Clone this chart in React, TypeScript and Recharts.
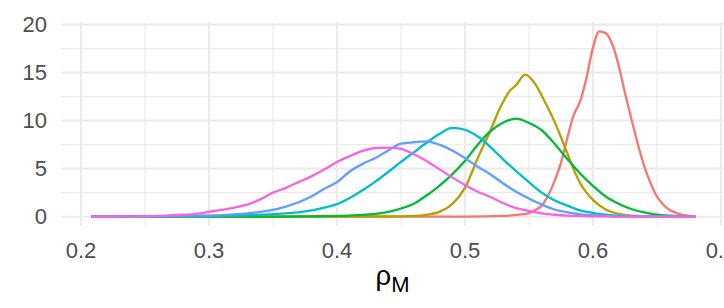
import { CartesianGrid, Label, Line, LineChart, ReferenceLine, XAxis, YAxis } from "recharts";

// density curves, one x/y list per group (drawn in ggplot's order)
const redX = [0.208, 0.5, 0.53, 0.54, 0.55, 0.555, 0.56, 0.565, 0.57, 0.575, 0.58, 0.585, 0.59, 0.595, 0.6, 0.605, 0.61, 0.615, 0.62, 0.625, 0.63, 0.635, 0.64, 0.645, 0.65, 0.655, 0.66, 0.665, 0.67, 0.68];
const redY = [0, 0.01, 0.08, 0.18, 0.38, 0.7, 1.15, 2.2, 3.7, 5.6, 8.2, 10.6, 12.0, 14.5, 17.6, 19.3, 19.1, 18.0, 15.8, 12.9, 10.2, 7.6, 5.3, 3.5, 2.1, 1.25, 0.7, 0.4, 0.18, 0.03];

const oliveX = [0.208, 0.44, 0.46, 0.47, 0.48, 0.49, 0.5, 0.51, 0.52, 0.527, 0.535, 0.54, 0.547, 0.555, 0.56, 0.565, 0.57, 0.575, 0.58, 0.585, 0.59, 0.595, 0.6, 0.61, 0.62, 0.63, 0.65, 0.68];
const oliveY = [0, 0.02, 0.08, 0.2, 0.5, 1.3, 3.0, 6.1, 9.0, 11.2, 13.1, 13.7, 14.8, 13.8, 12.6, 11.3, 9.9, 8.3, 6.6, 4.9, 3.5, 2.5, 1.75, 0.75, 0.3, 0.12, 0.02, 0];

const greenX = [0.208, 0.34, 0.38, 0.4, 0.41, 0.42, 0.43, 0.44, 0.45, 0.46, 0.47, 0.48, 0.49, 0.5, 0.51, 0.52, 0.53, 0.54, 0.55, 0.56, 0.57, 0.58, 0.59, 0.6, 0.61, 0.62, 0.63, 0.64, 0.65, 0.66, 0.68];
const greenY = [0, 0.01, 0.04, 0.08, 0.12, 0.18, 0.3, 0.5, 0.85, 1.35, 2.2, 3.2, 4.4, 5.8, 7.5, 8.9, 9.8, 10.2, 9.75, 9.0, 7.6, 6.0, 4.5, 3.2, 2.1, 1.35, 0.8, 0.45, 0.22, 0.1, 0];

const cyanX = [0.208, 0.26, 0.3, 0.33, 0.35, 0.36, 0.37, 0.38, 0.39, 0.4, 0.41, 0.42, 0.43, 0.44, 0.45, 0.46, 0.47, 0.48, 0.49, 0.5, 0.51, 0.52, 0.53, 0.54, 0.55, 0.56, 0.57, 0.58, 0.59, 0.6, 0.61, 0.62, 0.64, 0.68];
const cyanY = [0, 0.02, 0.07, 0.16, 0.27, 0.35, 0.45, 0.65, 0.95, 1.3, 1.95, 2.75, 3.65, 4.65, 5.7, 6.7, 7.7, 8.6, 9.25, 9.05, 8.35, 7.25, 5.95, 4.75, 3.6, 2.5, 1.7, 1.15, 0.65, 0.4, 0.2, 0.1, 0.02, 0];

const blueX = [0.208, 0.24, 0.27, 0.29, 0.31, 0.32, 0.33, 0.34, 0.35, 0.36, 0.37, 0.38, 0.39, 0.4, 0.41, 0.42, 0.43, 0.44, 0.45, 0.46, 0.47, 0.48, 0.49, 0.5, 0.51, 0.52, 0.53, 0.54, 0.55, 0.56, 0.57, 0.58, 0.59, 0.6, 0.61, 0.63, 0.68];
const blueY = [0, 0.02, 0.05, 0.1, 0.17, 0.25, 0.35, 0.5, 0.7, 1.05, 1.5, 2.1, 2.9, 3.6, 4.7, 5.5, 6.1, 6.9, 7.6, 7.75, 7.85, 7.5, 6.9, 6.1, 5.2, 4.4, 3.45, 2.6, 1.9, 1.25, 0.75, 0.45, 0.25, 0.15, 0.08, 0.02, 0];

const magentaX = [0.208, 0.22, 0.24, 0.26, 0.28, 0.29, 0.3, 0.31, 0.32, 0.33, 0.34, 0.35, 0.36, 0.37, 0.38, 0.39, 0.4, 0.41, 0.42, 0.43, 0.44, 0.45, 0.46, 0.47, 0.48, 0.49, 0.5, 0.51, 0.52, 0.53, 0.54, 0.55, 0.56, 0.57, 0.58, 0.6, 0.62, 0.68];
const magentaY = [0, 0.01, 0.03, 0.08, 0.2, 0.3, 0.5, 0.7, 0.95, 1.25, 1.8, 2.5, 3.0, 3.6, 4.2, 4.9, 5.7, 6.3, 6.85, 7.15, 7.2, 7.05, 6.5, 5.8, 4.95, 4.1, 3.3, 2.6, 2.05, 1.4, 0.9, 0.6, 0.35, 0.2, 0.1, 0.03, 0.01, 0];

const xMajor = [0.2, 0.3, 0.4, 0.5, 0.6, 0.7];
const xMinor = [0.25, 0.35, 0.45, 0.55, 0.65];
const yMajor = [0, 5, 10, 15, 20];
const yMinor = [2.5, 7.5, 12.5, 17.5];

const series = [
  { name: "red", color: "#F8766D", xs: redX, ys: redY },
  { name: "olive", color: "#B79F00", xs: oliveX, ys: oliveY },
  { name: "green", color: "#00BA38", xs: greenX, ys: greenY },
  { name: "cyan", color: "#00BFC4", xs: cyanX, ys: cyanY },
  { name: "blue", color: "#619CFF", xs: blueX, ys: blueY },
  { name: "magenta", color: "#F564E3", xs: magentaX, ys: magentaY },
].map((s) => ({ ...s, data: s.xs.map((x, i) => ({ x, y: s.ys[i] })) }));

const FONT = "'Liberation Sans', Arial, sans-serif";
const GRID = "#EBEBEB";

function AxisTitle(props: any) {
  const vb = props.viewBox || { x: 61, y: 226, width: 663 };
  const cx = vb.x + vb.width / 2;
  return (
    <text x={cx} y={vb.y + 59} textAnchor="middle" fill="#000000" fontFamily={FONT} fontSize={27.5}>
      <tspan>ρ</tspan>
      <tspan fontSize={22} dy={7}>M</tspan>
    </text>
  );
}

export default function App() {
  return (
    <div style={{ width: 724, height: 308, overflow: "hidden", background: "#FFFFFF" }}>
      <style>{"body{margin:0}"}</style>
      <LineChart
        width={724}
        height={308}
        margin={{ top: 22, right: 0, bottom: 22, left: 0 }}
        style={{ fontFamily: FONT }}
      >
        <CartesianGrid horizontal={false} vertical={false} />
        <XAxis
          type="number"
          dataKey="x"
          domain={[0.1844, 0.7024]}
          allowDataOverflow
          ticks={xMajor}
          interval={0}
          tickFormatter={(v: number) => v.toFixed(1)}
          axisLine={false}
          tickLine={false}
          tickSize={0}
          tickMargin={16}
          height={60}
          tick={{ fill: "#4D4D4D", fontSize: 22 }}
        >
          <Label content={AxisTitle} />
        </XAxis>
        <YAxis
          type="number"
          dataKey="y"
          domain={[-0.97, 20.27]}
          allowDataOverflow
          ticks={yMajor}
          interval={0}
          axisLine={false}
          tickLine={false}
          tickSize={0}
          tickMargin={14}
          width={61}
          tick={{ fill: "#4D4D4D", fontSize: 22 }}
        />
        {xMinor.map((v) => (
          <ReferenceLine key={`xm${v}`} x={v} stroke={GRID} strokeWidth={1.1} />
        ))}
        {yMinor.map((v) => (
          <ReferenceLine key={`ym${v}`} y={v} stroke={GRID} strokeWidth={1.1} />
        ))}
        {xMajor.map((v) => (
          <ReferenceLine key={`xM${v}`} x={v} stroke={GRID} strokeWidth={2.1} />
        ))}
        {yMajor.map((v) => (
          <ReferenceLine key={`yM${v}`} y={v} stroke={GRID} strokeWidth={2.1} />
        ))}
        {series.map((s) => (
          <Line
            key={s.name}
            data={s.data}
            dataKey="y"
            type="monotone"
            stroke={s.color}
            strokeWidth={2.3}
            dot={false}
            activeDot={false}
            isAnimationActive={false}
          />
        ))}
      </LineChart>
    </div>
  );
}
